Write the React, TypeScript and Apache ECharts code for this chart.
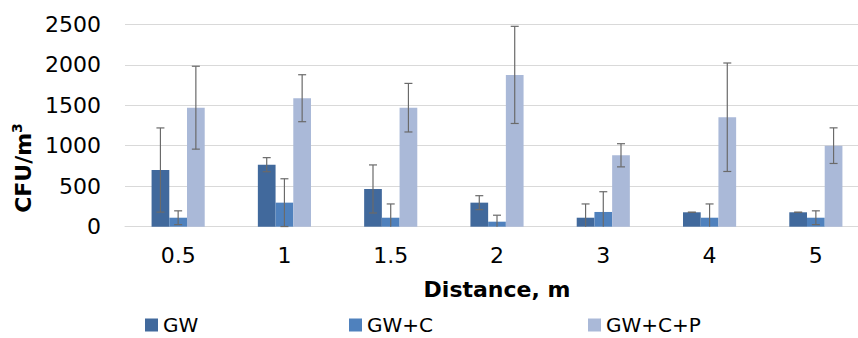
import React, { useEffect, useRef } from "react";
import * as echarts from "echarts";

const categories = ["0.5", "1", "1.5", "2", "3", "4", "5"];
const seriesNames = ["GW", "GW+C", "GW+C+P"];
const gwValues = [700, 766, 466, 297, 111, 178, 178];
const gwcValues = [111, 297, 111, 62, 182, 111, 111];
const gwcpValues = [1470, 1587, 1470, 1875, 882, 1352, 1001];
const gwErr = [520, 87, 297, 86, 170, 0, 0];
const gwcErr = [85, 295, 170, 80, 250, 170, 85];
const gwcpErr = [512, 290, 300, 600, 143, 670, 220];
const yTicks = [0, 500, 1000, 1500, 2000, 2500];

const colors = ["#41699c", "#4f81bd", "#aab9d8"];
const FONT = "DejaVu Sans";

export default function App() {
  const ref = useRef<HTMLDivElement>(null);
  useEffect(() => {
    document.body.style.margin = "0";
    document.body.style.overflow = "hidden";
    const chart = echarts.init(ref.current!, undefined, { renderer: "svg" });
    const allValues = [gwValues, gwcValues, gwcpValues];
    const allErr = [gwErr, gwcErr, gwcpErr];
    const barCategoryGap = 0.5;

    const errorSeries = allValues.map((vals, si) => ({
      type: "custom",
      name: seriesNames[si] + " err",
      z: 10,
      silent: true,
      data: vals.map((v, i) => [i, v, allErr[si][i]]),
      renderItem: (params: any, api: any) => {
        const idx = api.value(0);
        const v = api.value(1);
        const e = api.value(2);
        const band = api.size([1, 0])[0];
        const bw = (band * (1 - barCategoryGap)) / 3;
        const center = api.coord([idx, 0])[0] + (si - 1) * bw;
        const lowVal = Math.max(0, v - e);
        const top = api.coord([idx, v + e])[1];
        const bot = api.coord([idx, lowVal])[1];
        const cap = 4;
        const style = { stroke: "#6a6a6a", lineWidth: 1.2 };
        const children: any[] = [
          { type: "line", shape: { x1: center, y1: top, x2: center, y2: bot }, style },
          { type: "line", shape: { x1: center - cap, y1: top, x2: center + cap, y2: top }, style },
        ];
        if (v - e > 0 || e === 0) {
          children.push({ type: "line", shape: { x1: center - cap, y1: bot, x2: center + cap, y2: bot }, style });
        }
        return { type: "group", children };
      },
    }));

    const legendLefts = [145, 349, 588];

    chart.setOption({
      animation: false,
      backgroundColor: "#ffffff",
      textStyle: { fontFamily: FONT },
      grid: { left: 125, top: 24.3, width: 744, height: 202.4, containLabel: false },
      legend: seriesNames.map((n, i) => ({
        data: [n],
        left: legendLefts[i],
        top: 315,
        padding: 0,
        itemWidth: 13,
        itemHeight: 13,
        itemGap: 0,
        icon: "rect",
        textStyle: { fontFamily: FONT, fontSize: 20, color: "#000" },
      })),
      xAxis: {
        type: "category",
        data: categories,
        name: "Distance, m",
        nameLocation: "middle",
        nameGap: 52,
        nameTextStyle: { fontFamily: FONT, fontSize: 22, fontWeight: "bold", color: "#000" },
        axisLine: { show: true, lineStyle: { color: "#d9d9d9", width: 1 } },
        axisTick: { show: false },
        axisLabel: { fontFamily: FONT, fontSize: 22, color: "#000", margin: 18 },
      },
      yAxis: {
        type: "value",
        min: yTicks[0],
        max: yTicks[yTicks.length - 1],
        interval: 500,
        axisLine: { show: false },
        axisTick: { show: false },
        axisLabel: { fontFamily: FONT, fontSize: 22, color: "#000", margin: 24, formatter: (v: number) => String(v) },
        splitLine: { lineStyle: { color: "#d9d9d9", width: 1 } },
      },
      graphic: [
        {
          type: "text",
          x: 23,
          y: 168,
          rotation: Math.PI / 2,
          style: {
            text: "{a|CFU/m}{b|3}",
            align: "center",
            verticalAlign: "middle",
            rich: {
              a: { fontFamily: FONT, fontSize: 22, fontWeight: "bold", fill: "#000", lineHeight: 26 },
              b: { fontFamily: FONT, fontSize: 14, fontWeight: "bold", fill: "#000", lineHeight: 14, verticalAlign: "top" },
            },
          },
        },
      ],
      series: [
        ...allValues.map((vals, si) => ({
          type: "bar",
          name: seriesNames[si],
          data: vals,
          itemStyle: { color: colors[si] },
          barGap: "0%",
          barCategoryGap: "50%",
        })),
        ...errorSeries,
      ],
    });
    return () => chart.dispose();
  }, []);
  return <div ref={ref} style={{ position: "fixed", left: 0, top: 0, width: 872, height: 338 }} />;
}
